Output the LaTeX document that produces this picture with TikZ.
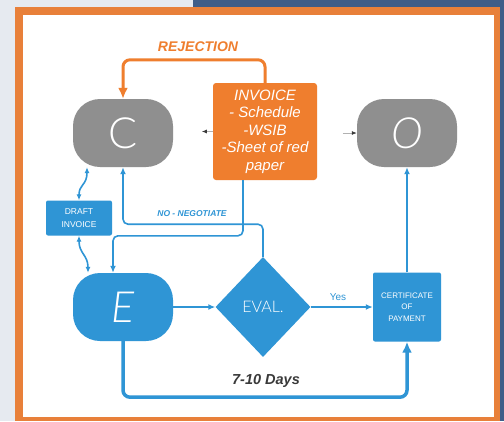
\documentclass[tikz,border=0pt]{standalone}
\usepackage{fontspec}
\setmainfont{Liberation Sans}
\newfontfamily\thinfont{Lato}[UprightFont=* Light, ItalicFont=* Light Italic]
\usetikzlibrary{shapes.geometric,arrows.meta,calc}
\definecolor{pagebg}{HTML}{E6EAF0}
\definecolor{navyband}{HTML}{3F5D88}
\definecolor{frameorange}{HTML}{E8803A}
\definecolor{boxorange}{HTML}{EF7E2E}
\definecolor{flowblue}{HTML}{2F95D5}
\definecolor{stonegray}{HTML}{8F8F8F}
\definecolor{darktext}{HTML}{3A3A3A}
\tikzset{
  blob/.style={rounded corners=27pt, minimum width=100pt, minimum height=68pt,
    inner sep=0pt, text=white, font=\thinfont\fontsize{43}{43}\selectfont},
  grayblob/.style={blob, fill=stonegray},
  blueblob/.style={blob, fill=flowblue},
  invbox/.style={fill=boxorange, rounded corners=3pt, minimum width=104pt,
    minimum height=97pt, inner sep=0pt, text=white, align=center,
    font=\itshape\fontsize{15}{17.5}\selectfont},
  smallbox/.style={fill=flowblue, rounded corners=2pt, inner sep=0pt, text=white,
    align=center},
  decision/.style={diamond, fill=flowblue, minimum width=95pt, minimum height=100pt,
    inner sep=0pt, text=white, font=\thinfont\fontsize{16}{16}\selectfont},
  thinflow/.style={draw=flowblue, line width=1.6pt, rounded corners=5pt},
  thickflow/.style={draw=flowblue, line width=3.5pt, rounded corners=7pt},
  blueTip/.style={-{Latex[length=7pt,width=6pt]}},
  grayTip/.style={draw=stonegray!70, line width=0.8pt, -{Latex[length=5pt,width=4pt,color=darktext]}},
}
\begin{document}
\begin{tikzpicture}[x=1pt,y=-1pt]
\useasboundingbox (0,0) rectangle (504,421);
% page, header band and orange frame
\fill[pagebg] (0,0) rectangle (504,421);
\fill[navyband] (193,0) rectangle (504,8);
\fill[navyband] (499,0) rectangle (504,421);
\fill[frameorange] (15,7) rectangle (500,421);
\fill[white] (23,15) rectangle (494,417);

% nodes
\node[grayblob] (C) at (123,133) {C};
\node[grayblob] (O) at (407,133) {\itshape O};
\node[invbox] (inv) at (265,131.5) {INVOICE\\- Schedule\\-WSIB\\-Sheet of red\\paper};
\node[smallbox, minimum width=66pt, minimum height=35pt,
  font=\fontsize{8.5}{13.5}\selectfont] (draft) at (79,218) {DRAFT\\INVOICE};
\node[blueblob] (E) at (123,307) {\itshape E};
\node[decision] (eval) at (263,307) {EVAL.};
\node[smallbox, minimum width=68pt, minimum height=69pt,
  font=\fontsize{8}{11.5}\selectfont] (cert) at (407,307) {CERTIFICATE\\OF\\PAYMENT};

% labels
\node[text=boxorange, font=\bfseries\itshape\fontsize{14}{14}\selectfont] (rejlabel) at (198,47) {REJECTION};
\node[text=flowblue, font=\bfseries\itshape\fontsize{8.5}{8.5}\selectfont] (neglabel) at (192,214) {NO - NEGOTIATE};
\node[text=flowblue, font=\fontsize{10}{10}\selectfont] (yeslabel) at (338,297) {Yes};
\node[text=darktext, font=\bfseries\itshape\fontsize{14.5}{14.5}\selectfont] (dayslabel) at (266,381) {7-10 Days};

% rejection loop back to C
\draw[draw=boxorange, line width=3pt, rounded corners=7pt,
  -{Latex[length=11pt,width=10pt]}] (inv.north) -- ++(0,-23) -| (C.north);

% invoice to C and O
\draw[grayTip] (inv.west) -- ++(-11,0) coordinate (invleft);
\draw[grayTip] ($(O.west)+(-14,0)$) coordinate (oright) -- (O.west);

% draft invoice exchanges
\draw[thinflow, rounded corners=0pt, {Latex[length=6pt,width=5pt]}-{Latex[length=6pt,width=5pt]}]
  ($(C.south)+(-36,0)$) .. controls ($(C.south)+(-36,18)$) and ($(draft.north)+(0,-16)$) .. (draft.north);
\draw[thinflow, rounded corners=0pt, {Latex[length=6pt,width=5pt]}-{Latex[length=6pt,width=5pt]}]
  (draft.south) .. controls ($(draft.south)+(0,18)$) and ($(E.north)+(-35,-18)$) .. ($(E.north)+(-35,0)$);

% invoice into E
\draw[thinflow, blueTip] ($(inv.south)+(-22,0)$) |- ($(E.north)+(-10,-37)$) -- ($(E.north)+(-10,0)$);

% negotiation back to C
\draw[thinflow, blueTip] (eval.north) |- ($(C.south)+(0,57)$) -- (C.south);

% main flow
\draw[thinflow, blueTip] (E.east) -- (eval.west);
\draw[thinflow, blueTip] (eval.east) -- (cert.west);
\draw[thinflow, blueTip] (cert.north) -- (O.south);
\draw[thickflow, -{Latex[length=11pt,width=10pt]}] (E.south) -- ++(0,56) -| (cert.south);
\end{tikzpicture}
\end{document}
